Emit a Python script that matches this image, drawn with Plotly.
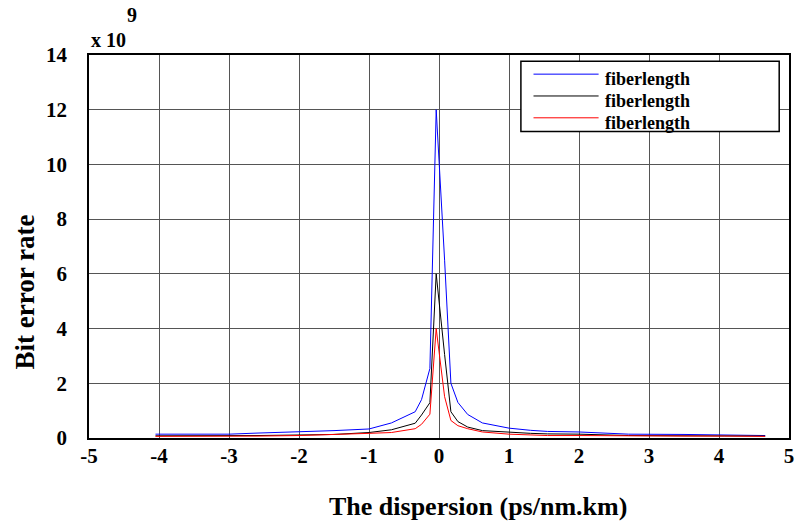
import plotly.graph_objects as go

# Dispersion values (ps/nm.km)
dispersion = [-4.05, -3.5, -3.0, -2.6, -2.0, -1.5, -1.0, -0.68, -0.34, -0.25, -0.13, -0.04,
              0.08, 0.17, 0.27, 0.41, 0.62, 1.0, 1.31, 1.55, 2.0, 2.71, 3.5, 4.08, 4.66]

# Bit error rate (x 10^9)
ber_blue = [0.14, 0.14, 0.14, 0.18, 0.22, 0.27, 0.33, 0.55, 0.96, 1.40, 2.54, 12.0,
            6.5, 2.0, 1.30, 0.86, 0.55, 0.36, 0.28, 0.24, 0.22, 0.14, 0.13, 0.12, 0.09]
ber_black = [0.08, 0.08, 0.08, 0.09, 0.11, 0.13, 0.20, 0.30, 0.54, 0.84, 1.29, 6.0,
             3.05, 0.96, 0.60, 0.40, 0.27, 0.20, 0.17, 0.15, 0.14, 0.09, 0.09, 0.09, 0.07]
ber_red = [0.06, 0.06, 0.06, 0.07, 0.09, 0.12, 0.17, 0.20, 0.34, 0.50, 0.87, 4.0,
           1.51, 0.64, 0.45, 0.34, 0.22, 0.14, 0.10, 0.09, 0.09, 0.07, 0.07, 0.07, 0.06]

series_names = ["fiberlength", "fiberlength", "fiberlength"]
series_colors = ["#0000ff", "#000000", "#ff0000"]

x_ticks = [-5, -4, -3, -2, -1, 0, 1, 2, 3, 4, 5]
x_ticktext = ["-5", "-4", "-3", "-2", "-1", "0", "1", "2", "3", "4", "5"]
y_ticks = [0, 2, 4, 6, 8, 10, 12, 14]
y_ticktext = ["0", "2", "4", "6", "8", "10", "12", "14"]

FONT = "Liberation Serif"

fig = go.Figure()
for ys, name, col in zip([ber_blue, ber_black, ber_red], series_names, series_colors):
    fig.add_trace(go.Scatter(x=dispersion, y=ys, mode="lines", name=name,
                             line=dict(color=col, width=1), showlegend=False))

# Hand-drawn legend box (matching the original's compact legend)
leg_x0, leg_x1, leg_y0, leg_y1 = 0.617, 0.986, 0.800, 0.984
line_x0, line_x1, text_x = 0.635, 0.728, 0.736
line_ys = [0.950, 0.893, 0.836]
text_ys = [0.937, 0.880, 0.823]

shapes = [dict(type="rect", xref="paper", yref="paper", x0=leg_x0, x1=leg_x1,
               y0=leg_y0, y1=leg_y1, line=dict(color="black", width=1.5),
               fillcolor="white", layer="above")]
annotations = []
for name, col, ly, ty in zip(series_names, series_colors, line_ys, text_ys):
    shapes.append(dict(type="line", xref="paper", yref="paper", x0=line_x0, x1=line_x1,
                       y0=ly, y1=ly, line=dict(color=col, width=1), layer="above"))
    annotations.append(dict(text="<b>" + name + "</b>", x=text_x, y=ty, xref="paper",
                            yref="paper", xanchor="left", yanchor="middle",
                            showarrow=False, borderpad=0,
                            font=dict(family=FONT, size=18, color="black")))

annotations += [
    dict(text="<b>x 10</b>", x=0.0, y=1.039, xref="paper", yref="paper",
         xanchor="left", yanchor="middle", showarrow=False,
         font=dict(family=FONT, size=20, color="black")),
    dict(text="<b>9</b>", x=0.062, y=1.104, xref="paper", yref="paper",
         xanchor="center", yanchor="middle", showarrow=False,
         font=dict(family=FONT, size=20, color="black")),
    dict(text="<b>Bit error rate</b>", x=-0.0908, y=0.381, xref="paper", yref="paper",
         xanchor="center", yanchor="middle", textangle=-90, showarrow=False,
         font=dict(family=FONT, size=27, color="black")),
    dict(text="<b>The dispersion (ps/nm.km)</b>", x=0.556, y=-0.180,
         xref="paper", yref="paper", xanchor="center", yanchor="middle",
         showarrow=False, font=dict(family=FONT, size=26, color="black")),
]

fig.update_layout(
    width=801, height=521,
    margin=dict(l=89, r=7, t=55, b=83),
    paper_bgcolor="white", plot_bgcolor="white",
    font=dict(family=FONT, size=20, color="black"),
    showlegend=False,
    xaxis=dict(range=[-5, 5], tickvals=x_ticks,
               ticktext=["<b>" + t + "</b>" for t in x_ticktext],
               showgrid=True, gridcolor="#555555", gridwidth=1,
               showline=True, linecolor="black", linewidth=1.5, mirror=True,
               zeroline=False, ticks="", ticklabelstandoff=-2,
               tickfont=dict(family=FONT, size=21, color="black", weight="bold")),
    yaxis=dict(range=[0, 14], tickvals=y_ticks,
               ticktext=["<b>" + t + "</b>" for t in y_ticktext],
               showgrid=True, gridcolor="#555555", gridwidth=1,
               showline=True, linecolor="black", linewidth=1.5, mirror=True,
               zeroline=False, ticks="", ticklabelstandoff=16,
               tickfont=dict(family=FONT, size=21, color="black", weight="bold")),
    shapes=shapes,
    annotations=annotations,
)

fig.write_html("out.html")
